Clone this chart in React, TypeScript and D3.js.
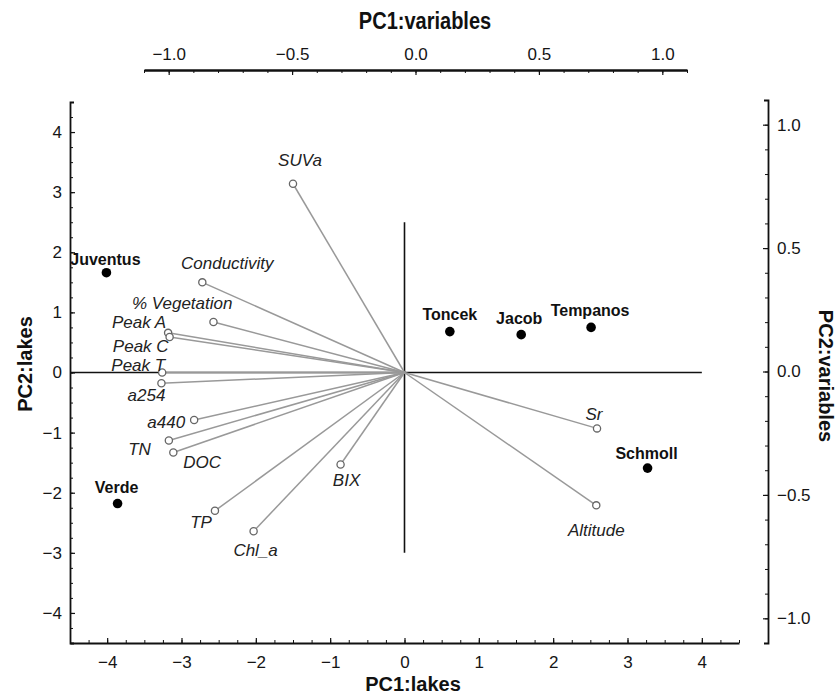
import React, { useRef, useEffect } from 'react';
import * as d3 from 'd3';

// lake scores (PC1, PC2)
const lakeNames = ['Juventus', 'Verde', 'Toncek', 'Jacob', 'Tempanos', 'Schmoll'];
const lakePC1 = [-4.01, -3.86, 0.61, 1.57, 2.51, 3.27];
const lakePC2 = [1.66, -2.18, 0.68, 0.63, 0.75, -1.59];

// variable vectors, drawn in lake-score units (biplot scaling)
const varNames = ['SUVa', 'Conductivity', '% Vegetation', 'Peak A', 'Peak C', 'Peak T', 'a254', 'a440', 'TN', 'DOC', 'TP', 'Chl_a', 'BIX', 'Sr', 'Altitude'];
const varPC1 = [-1.5, -2.72, -2.57, -3.18, -3.16, -3.26, -3.27, -2.83, -3.17, -3.11, -2.55, -2.03, -0.86, 2.59, 2.58];
const varPC2 = [3.14, 1.5, 0.84, 0.66, 0.59, 0.0, -0.18, -0.79, -1.13, -1.33, -2.3, -2.64, -1.53, -0.93, -2.21];

// tick labels
const lakeTicksX = [-4, -3, -2, -1, 0, 1, 2, 3, 4];
const lakeTicksY = [-4, -3, -2, -1, 0, 1, 2, 3, 4];
const varTicks = [-1, -0.5, 0, 0.5, 1];

// label placement (pixels from the marker)
const varLabelPos: Record<string, [string, number, number]> = {
  'SUVa': ['middle', 7, -18],
  'Conductivity': ['middle', 25, -13],
  '% Vegetation': ['end', 19, -13],
  'Peak A': ['end', -2, -5],
  'Peak C': ['end', -1, 15],
  'Peak T': ['end', 3, -2],
  'a254': ['end', 4, 18],
  'a440': ['end', -9, 8],
  'TN': ['end', -18, 15],
  'DOC': ['start', 10, 16],
  'TP': ['end', -3, 17],
  'Chl_a': ['middle', 2, 25],
  'BIX': ['middle', 6, 22],
  'Sr': ['middle', -3, -8],
  'Altitude': ['middle', 0, 31],
};
const lakeLabelPos: Record<string, [number, number]> = {
  Juventus: [-1, -8],
  Verde: [-1, -11],
  Toncek: [0, -12],
  Jacob: [-2, -11],
  Tempanos: [-1, -11],
  Schmoll: [-1, -9],
};

const FONT = '"Liberation Sans", Arial, sans-serif';

function Biplot() {
  const svgRef = useRef<SVGSVGElement>(null);

  const x = d3.scaleLinear().domain([-4.5, 4.5]).range([70, 739]);
  const y = d3.scaleLinear().domain([-4.5, 4.5]).range([643, 102]);
  const xTop = d3.scaleLinear().domain([-1.1, 1.1]).range([144, 687]);
  const yRight = d3.scaleLinear().domain([-1.1, 1.1]).range([643, 100]);

  useEffect(() => {
    const svg = d3.select(svgRef.current);
    const fmt1 = d3.format('.1f');
    const minorLake = d3.range(-4.5, 4.51, 0.25);
    const minorVar = d3.range(-1.1, 1.11, 0.1);

    const styleAxis = (g: any, w: number) => {
      g.selectAll('text').attr('font-family', FONT).attr('font-size', 17).attr('fill', '#151515');
      g.select('.domain').attr('stroke', '#111').attr('stroke-width', w);
      g.selectAll('.tick line').attr('stroke', '#111').attr('stroke-width', 1.2);
    };
    const minor = (g: any, axis: any, ticks: number[]) => {
      g.call(axis.tickValues(ticks).tickSize(-3).tickFormat(() => ''));
      g.select('.domain').remove();
      g.selectAll('.tick line').attr('stroke', '#111').attr('stroke-width', 1);
    };

    minor(svg.select('.bx-minor'), d3.axisBottom(x), minorLake);
    minor(svg.select('.ly-minor'), d3.axisLeft(y), minorLake);
    minor(svg.select('.tx-minor'), d3.axisTop(xTop), minorVar);
    minor(svg.select('.ry-minor'), d3.axisRight(yRight), minorVar);

    svg.select('.bx').call(
      d3.axisBottom(x).tickValues(lakeTicksX).tickSizeInner(-5).tickSizeOuter(0).tickPadding(13) as any
    ).call((g: any) => styleAxis(g, 2));
    svg.select('.ly').call(
      d3.axisLeft(y).tickValues(lakeTicksY).tickSizeInner(-5).tickSizeOuter(-4).tickPadding(8) as any
    ).call((g: any) => styleAxis(g, 1.8));
    svg.select('.tx').call(
      d3.axisTop(xTop).tickValues(varTicks).tickFormat(fmt1 as any).tickSizeInner(-5).tickSizeOuter(0).tickPadding(10) as any
    ).call((g: any) => styleAxis(g, 2.6));
    svg.select('.ry').call(
      d3.axisRight(yRight).tickValues(varTicks).tickFormat(fmt1 as any).tickSizeInner(-5).tickSizeOuter(-4).tickPadding(9) as any
    ).call((g: any) => styleAxis(g, 1.8));
  }, []);

  return (
    <svg ref={svgRef} width={838} height={699} style={{ position: 'absolute', left: 0, top: 0, background: '#fff' }}>
      {/* reference cross */}
      <line x1={x(-4.5)} x2={x(4)} y1={y(0)} y2={y(0)} stroke="#111" strokeWidth={1.6} />
      <line x1={x(0)} x2={x(0)} y1={y(2.5)} y2={y(-3)} stroke="#111" strokeWidth={1.6} />

      {/* variable vectors */}
      {varNames.map((n, i) => (
        <line key={'v' + n} x1={x(0)} y1={y(0)} x2={x(varPC1[i])} y2={y(varPC2[i])} stroke="#999" strokeWidth={1.5} />
      ))}
      {varNames.map((n, i) => (
        <circle key={'c' + n} cx={x(varPC1[i])} cy={y(varPC2[i])} r={3.6} fill="#fff" stroke="#666" strokeWidth={1.3} />
      ))}
      {varNames.map((n, i) => {
        const [anchor, dx, dy] = varLabelPos[n];
        return (
          <text key={'t' + n} x={x(varPC1[i]) + dx} y={y(varPC2[i]) + dy} textAnchor={anchor}
            fontFamily={FONT} fontStyle="italic" fontSize={17} fill="#222">{n}</text>
        );
      })}

      {/* lakes */}
      {lakeNames.map((n, i) => (
        <circle key={'p' + n} cx={x(lakePC1[i])} cy={y(lakePC2[i])} r={4.8} fill="#000" />
      ))}
      {lakeNames.map((n, i) => (
        <text key={'l' + n} x={x(lakePC1[i]) + lakeLabelPos[n][0]} y={y(lakePC2[i]) + lakeLabelPos[n][1]}
          textAnchor="middle" fontFamily={FONT} fontWeight="bold" fontSize={16} fill="#111">{n}</text>
      ))}

      {/* axes */}
      <g className="bx-minor" transform="translate(0,643)" />
      <g className="ly-minor" transform="translate(70,0)" />
      <g className="tx-minor" transform="translate(0,70)" />
      <g className="ry-minor" transform="translate(768,0)" />
      <g className="bx" transform="translate(0,643)" />
      <g className="ly" transform="translate(70,0)" />
      <g className="tx" transform="translate(0,70)" />
      <g className="ry" transform="translate(768,0)" />

      {/* axis titles */}
      <text x={413} y={691} textAnchor="middle" fontFamily={FONT} fontWeight="bold" fontSize={20} fill="#111">PC1:lakes</text>
      <text transform="translate(425,29) scale(0.87,1)" textAnchor="middle" fontFamily={FONT} fontWeight="bold" fontSize={23} fill="#111">PC1:variables</text>
      <text transform="translate(32,364) rotate(-90)" textAnchor="middle" fontFamily={FONT} fontWeight="bold" fontSize={20} fill="#111">PC2:lakes</text>
      <text transform="translate(819,376) rotate(90)" textAnchor="middle" fontFamily={FONT} fontWeight="bold" fontSize={20} fill="#111">PC2:variables</text>
    </svg>
  );
}

export default function App() {
  return <Biplot />;
}
